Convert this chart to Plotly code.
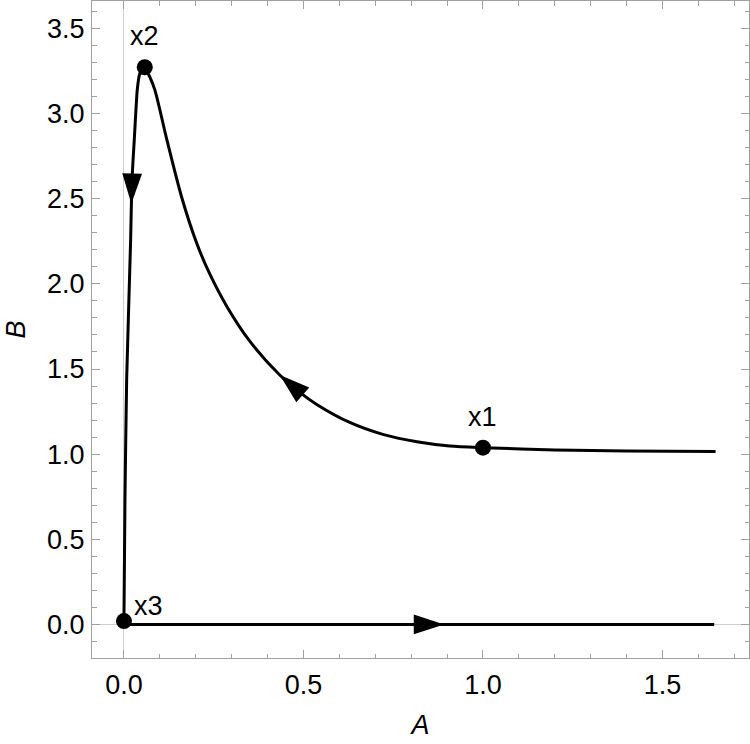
import plotly.graph_objects as go

# ---- data ----
# upper trajectory: from the right end, through x1, up to x2
top_A = [1.648, 1.40, 1.20, 1.00, 0.907, 0.816, 0.721, 0.629, 0.537, 0.490,
         0.434, 0.351, 0.287, 0.239, 0.203, 0.161, 0.120, 0.086, 0.072, 0.058]
top_B = [1.016, 1.019, 1.025, 1.038, 1.048, 1.073, 1.116, 1.186, 1.292, 1.363,
         1.465, 1.662, 1.866, 2.058, 2.237, 2.507, 2.842, 3.139, 3.215, 3.272]

# left trajectory: from x2 down to x3
left_A = [0.058, 0.0445, 0.037, 0.0287, 0.0223, 0.0186, 0.0075, 0.0028, 0.0]
left_B = [3.272, 3.237, 3.139, 2.845, 2.610, 2.258, 1.436, 0.731, 0.02]

# bottom trajectory along B = 0
bottom_A = [0.0, 1.644]
bottom_B = [0.0, 0.0]

# fixed points
point_names = ["x1", "x2", "x3"]
point_A = [1.0, 0.058, 0.0]
point_B = [1.038, 3.272, 0.02]

# arrowheads: (tail point, tip point) along each trajectory
arrow_A = [[0.490, 0.434], [0.0235, 0.0205], [0.80, 0.892]]
arrow_B = [[1.363, 1.465], [2.70, 2.47], [0.0, 0.0]]

FONT = "Liberation Sans, Arial, sans-serif"
LINE = dict(color="black", width=3)

fig = go.Figure()
fig.add_trace(go.Scatter(x=top_A, y=top_B, mode="lines",
                         line=dict(shape="spline", smoothing=0.8, **LINE), hoverinfo="skip"))
fig.add_trace(go.Scatter(x=left_A, y=left_B, mode="lines",
                         line=dict(shape="spline", smoothing=0.4, **LINE), hoverinfo="skip"))
fig.add_trace(go.Scatter(x=bottom_A, y=bottom_B, mode="lines", line=LINE, hoverinfo="skip"))

for ax_, ay_ in zip(arrow_A, arrow_B):
    fig.add_trace(go.Scatter(
        x=ax_, y=ay_, mode="markers",
        marker=dict(symbol="arrow", size=[0, 32], angleref="previous", color="black",
                    opacity=1, line=dict(width=0)),
        hoverinfo="skip"))

fig.add_trace(go.Scatter(x=point_A, y=point_B, mode="markers",
                         marker=dict(size=16, color="black", opacity=1), hoverinfo="skip"))

label_shift = {"x1": (0, 31), "x2": (0, 31), "x3": (25, 15)}
for name, a, b in zip(point_names, point_A, point_B):
    dx, dy = label_shift[name]
    fig.add_annotation(x=a, y=b, text=name, showarrow=False, xshift=dx, yshift=dy,
                       font=dict(family=FONT, size=27, color="black"))

axis_common = dict(
    showline=True, linecolor="#a0a0a0", linewidth=1, mirror="allticks",
    ticks="inside", ticklen=8, tickwidth=1, tickcolor="#a0a0a0",
    dtick=0.5, tick0=0, tickformat=".1f",
    minor=dict(dtick=0.1, ticklen=4.5, tickcolor="#a0a0a0", ticks="inside", showgrid=False),
    showgrid=False, zeroline=True, zerolinecolor="#cfcfcf", zerolinewidth=1,
    tickfont=dict(family=FONT, size=27, color="black"),
)

fig.update_xaxes(range=[-0.089, 1.741], ticklabelstandoff=3,
                 title=dict(text="<i>A</i>", font=dict(family=FONT, size=27, color="black"), standoff=15),
                 **axis_common)
fig.update_yaxes(range=[-0.197, 3.661], ticklabelstandoff=1,
                 title=dict(text="<i>B</i>", font=dict(family=FONT, size=27, color="black"), standoff=13),
                 **axis_common)

fig.update_layout(
    width=750, height=744,
    margin=dict(l=92, r=1, t=1, b=86, autoexpand=False),
    plot_bgcolor="white", paper_bgcolor="white",
    showlegend=False,
)

fig.write_html("out.html")
